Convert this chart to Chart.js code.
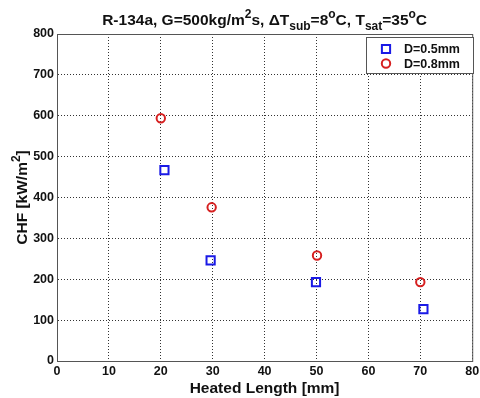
<!DOCTYPE html>
<html>
<head>
<meta charset="utf-8">
<script src="https://cdn.jsdelivr.net/npm/chart.js@4/dist/chart.umd.min.js"></script>
<style>
  html, body { margin: 0; padding: 0; background: #fff; }
  #wrap { width: 480px; height: 398px; }
</style>
</head>
<body>
<div id="wrap"><canvas id="chfChart" width="480" height="398"></canvas></div>
<script>
// heated length [mm] vs CHF [kW/m2]
const lenSmall = [20.7, 29.6, 49.9, 70.6];
const chfSmall = [467, 246, 193, 127];
const lenLarge = [20.0, 29.8, 50.1, 70.0];
const chfLarge = [594, 376, 258, 193];

const seriesLabels = ["D=0.5mm", "D=0.8mm"];
const xTicks = [0, 10, 20, 30, 40, 50, 60, 70, 80];
const yTicks = [0, 100, 200, 300, 400, 500, 600, 700, 800];

const FONT = "'Liberation Sans', Arial, sans-serif";

// text with sub/superscript pieces: [text, 'n'|'sup'|'sub']
function measureRich(ctx, parts, size) {
  let w = 0;
  parts.forEach(p => {
    ctx.font = "bold " + (p[1] === "n" ? size : Math.round(size * 0.78)) + "px " + FONT;
    w += ctx.measureText(p[0]).width;
  });
  return w;
}
function drawRich(ctx, parts, x, y, size) {
  let cx = x;
  parts.forEach(p => {
    let s = size, dy = 0;
    if (p[1] === "sup") { s = Math.round(size * 0.78); dy = -size * 0.42; }
    if (p[1] === "sub") { s = Math.round(size * 0.78); dy = size * 0.32; }
    ctx.font = "bold " + s + "px " + FONT;
    ctx.fillText(p[0], cx, y + dy);
    cx += ctx.measureText(p[0]).width;
  });
}

const titleParts = [
  ["R-134a, G=500kg/m", "n"], ["2", "sup"], ["s, \u0394T", "n"], ["sub", "sub"],
  ["=8", "n"], ["o", "sup"], ["C, T", "n"], ["sat", "sub"], ["=35", "n"], ["o", "sup"], ["C", "n"]
];
const yTitleParts = [["CHF [kW/m", "n"], ["2", "sup"], ["]", "n"]];

const decorations = {
  id: "decorations",
  afterDraw(chart) {
    const { ctx, chartArea: a } = chart;
    ctx.save();
    // box round the axes
    ctx.strokeStyle = "#555";
    ctx.lineWidth = 1;
    ctx.strokeRect(a.left + 0.5, a.top + 0.5, a.right - a.left, a.bottom - a.top);

    ctx.fillStyle = "#111";
    ctx.textBaseline = "alphabetic";
    // title
    const tw = measureRich(ctx, titleParts, 15.5);
    drawRich(ctx, titleParts, (a.left + a.right) / 2 - tw / 2, 25, 15.5);
    // x title
    ctx.font = "bold 15.5px " + FONT;
    ctx.textAlign = "center";
    ctx.fillText("Heated Length [mm]", (a.left + a.right) / 2, 393);
    ctx.textAlign = "left";
    // y title
    const yw = measureRich(ctx, yTitleParts, 15.5);
    ctx.save();
    ctx.translate(27, (a.top + a.bottom) / 2);
    ctx.rotate(-Math.PI / 2);
    drawRich(ctx, yTitleParts, -yw / 2, 0, 15.5);
    ctx.restore();

    // legend
    const lx = 366, ly = 37, lw = 107, lh = 36;
    ctx.fillStyle = "#fff";
    ctx.fillRect(lx, ly, lw, lh);
    ctx.strokeStyle = "#555";
    ctx.strokeRect(lx + 0.5, ly + 0.5, lw, lh);
    chart.data.datasets.forEach((ds, i) => {
      const cy = ly + 12 + i * 14.5;
      ctx.strokeStyle = ds.borderColor;
      ctx.lineWidth = ds.borderWidth;
      ctx.beginPath();
      if (ds.pointStyle === "rect") {
        const s = ds.pointRadius * Math.SQRT1_2;
        ctx.rect(386 - s, cy - s, 2 * s, 2 * s);
      } else {
        ctx.arc(386, cy, ds.pointRadius, 0, Math.PI * 2);
      }
      ctx.stroke();
      ctx.fillStyle = "#111";
      ctx.font = "bold 12.5px " + FONT;
      ctx.textBaseline = "middle";
      ctx.fillText(ds.label, 404, cy + 1);
    });
    ctx.restore();
  }
};

function toPoints(xs, ys) {
  return xs.map((x, i) => ({ x: x, y: ys[i] }));
}

new Chart(document.getElementById("chfChart"), {
  type: "scatter",
  data: {
    datasets: [
      {
        label: seriesLabels[0],
        data: toPoints(lenSmall, chfSmall),
        pointStyle: "rect",
        pointRadius: 5.8,
        borderWidth: 2,
        borderColor: "#1a1ae6",
        backgroundColor: "rgba(0,0,0,0)"
      },
      {
        label: seriesLabels[1],
        data: toPoints(lenLarge, chfLarge),
        pointStyle: "circle",
        pointRadius: 4.2,
        borderWidth: 2,
        borderColor: "#d62020",
        backgroundColor: "rgba(0,0,0,0)"
      }
    ]
  },
  options: {
    responsive: false,
    animation: false,
    layout: { padding: { top: 34, right: 5, bottom: 0, left: 0 } },
    plugins: {
      legend: { display: false },
      tooltip: { enabled: false }
    },
    scales: {
      x: {
        type: "linear",
        min: 0, max: 80,
        afterBuildTicks: s => { s.ticks = xTicks.map(v => ({ value: v })); },
        afterFit: s => { s.height = 37; s.paddingLeft = 0; s.paddingRight = 0; },
        ticks: {
          color: "#111",
          font: { family: FONT, size: 12.5, weight: "bold" },
          padding: 3,
          maxRotation: 0
        },
        grid: { color: "#333", tickLength: 0, lineWidth: 1 },
        border: { color: "#555", dash: [1, 2] }
      },
      y: {
        type: "linear",
        min: 0, max: 800,
        afterBuildTicks: s => { s.ticks = yTicks.map(v => ({ value: v })); },
        afterFit: s => { s.width = 57; s.paddingTop = 0; s.paddingBottom = 0; },
        ticks: {
          color: "#111",
          font: { family: FONT, size: 12.5, weight: "bold" },
          padding: 3
        },
        grid: { color: "#333", tickLength: 0, lineWidth: 1 },
        border: { color: "#555", dash: [1, 2] }
      }
    }
  },
  plugins: [decorations]
});
</script>
</body>
</html>
